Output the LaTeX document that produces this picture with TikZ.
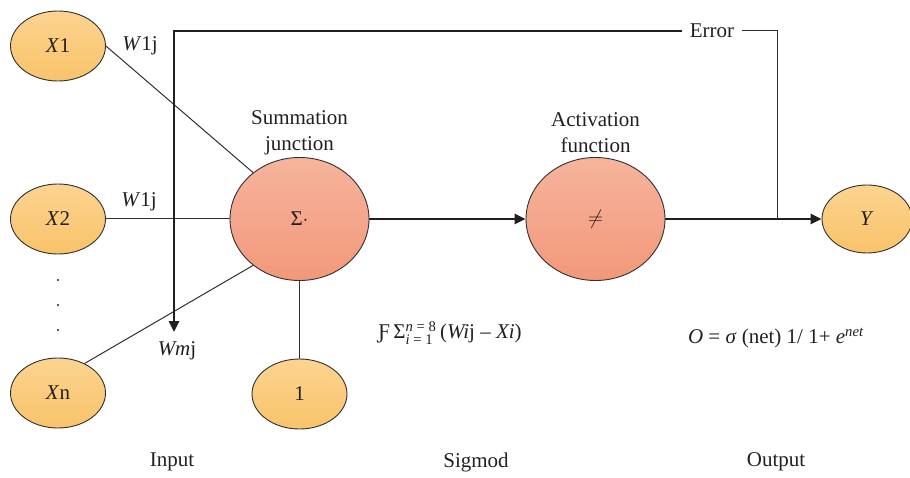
\documentclass[tikz,border=0pt]{standalone}
\usepackage{fontspec}
\usepackage{amsmath}
\setmainfont{Liberation Serif}
\usetikzlibrary{shapes.geometric,arrows.meta}
\definecolor{inTop}{HTML}{FCD490}
\definecolor{inBot}{HTML}{F9C36A}
\definecolor{neTop}{HTML}{F7B49D}
\definecolor{neBot}{HTML}{F2987A}
\definecolor{edge}{HTML}{303030}
\definecolor{ink}{HTML}{231F20}
\begin{document}
\begin{tikzpicture}[x=1pt,y=-1pt,
  font=\fontsize{21}{25}\selectfont, text=ink,
  inp/.style={ellipse, draw=edge, line width=0.9pt, top color=inTop, bottom color=inBot, minimum width=95pt, minimum height=70pt, inner sep=0pt},
  neu/.style={ellipse, draw=edge, line width=0.9pt, top color=neTop, bottom color=neBot, minimum width=139pt, minimum height=123pt, inner sep=0pt},
  thinln/.style={line width=1pt, draw=edge},
  thickln/.style={line width=2.6pt, draw=ink},
  tip/.style={-{Triangle[length=11pt,width=10pt]}},
  dotmark/.style={circle, fill=ink, inner sep=0pt, minimum size=2.4pt},
  lbl/.style={inner sep=0pt, align=center}
]
\useasboundingbox (0,0) rectangle (910,478);
% nodes
\node[inp] (x1) at (58,46) {\textit{X}1};
\node[inp] (x2) at (58,219) {\textit{X}2};
\node[inp] (xn) at (58,393) {\textit{X}n};
\node[inp] (one) at (299.5,394) {1};
\node[neu] (s) at (299.5,219) {Σ$\cdot$};
\node[neu] (a) at (595.5,219) {$\neq$};
\node[inp, minimum width=90pt, minimum height=68pt] (y) at (867,219) {\textit{Y}};
% dots
\node[dotmark] (d1) at (58,280) {};
\node[dotmark] (d2) at (58,305) {};
\node[dotmark] (d3) at (58,330) {};
% labels
\node[lbl] (w1) at (140,46) {\textit{W}1j};
\node[lbl] (w2) at (139,202) {\textit{W}1j};
\node[lbl] (wm) at (177,351) {\textit{Wm}j};
\node[lbl, font=\fontsize{21}{26}\selectfont] (sl) at (299.5,133) {Summation\\junction};
\node[lbl, font=\fontsize{21}{26}\selectfont] (al) at (595.5,133) {Activation\\function};
\node[inner sep=8pt] (err) at (712,31) {Error};
\node[lbl] (f1) at (450,333) {Ƒ\,Σ$^{\text{\textit{n} = 8}}_{\text{\textit{i} = 1}}$\,(\textit{Wi}j – \textit{Xi})};
\node[lbl] (f2) at (776,338) {\textit{O} = \textit{σ} (net) 1/ 1+ \textit{e}\textsuperscript{\textit{net}}};
\node[lbl] (in) at (172,462) {Input};
\node[lbl] (sg) at (476,462) {Sigmod};
\node[lbl] (ou) at (776,462) {Output};
% thin connectors
\draw[thinln] (x1.east) -- (s.135);
\draw[thinln] (x2.east) -- (s.west);
\draw[thinln] (xn.48) -- (s.225);
\draw[thinln] (s.south) -- (one.north);
% main signal
\coordinate (tap) at (777,219);
\coordinate (fb) at (174,332);
\draw[thickln, tip] (s.east) -- (a.west);
\draw[thickln, tip] (a.east) -- (y.west);
\draw[thinln] (err.east) -| (tap);
\draw[thickln, tip] (err.west) -| (fb);
\end{tikzpicture}
\end{document}
